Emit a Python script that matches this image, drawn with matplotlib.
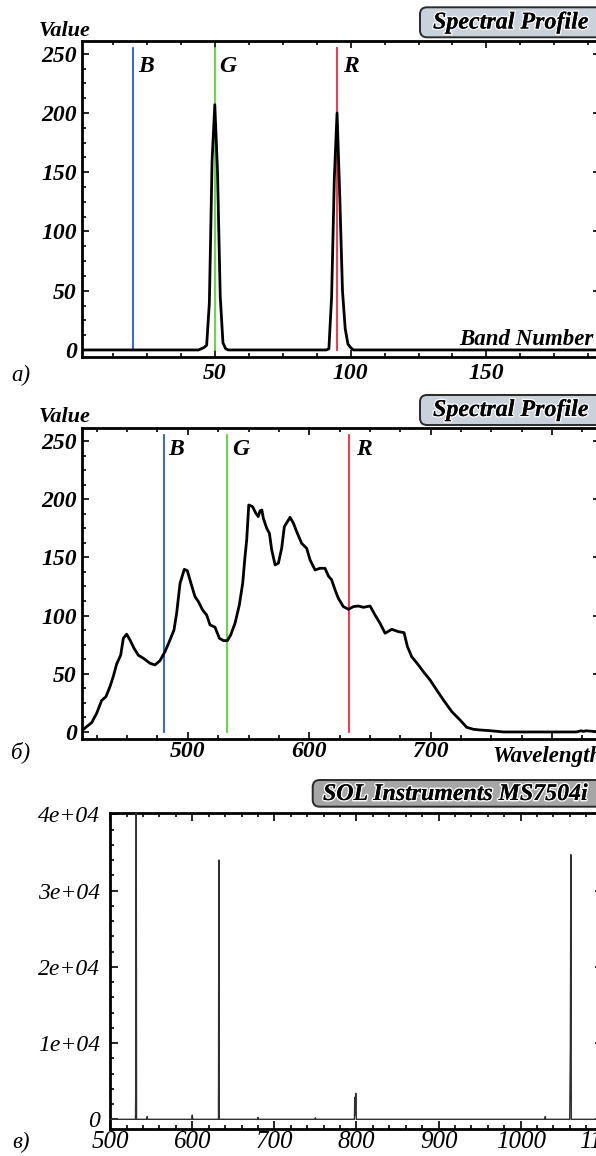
import matplotlib
matplotlib.use("Agg")
import matplotlib.pyplot as plt
from matplotlib.ticker import MultipleLocator, FixedLocator, FixedFormatter
from matplotlib.patches import FancyBboxPatch
from matplotlib.transforms import IdentityTransform
import matplotlib.patheffects as pe

# ---------------- data ----------------
# a) band profile
bands_a = [1, 44, 45, 46, 47, 48, 49, 50, 51, 52, 53, 54, 55,
           91, 92, 93, 94, 95, 96, 97, 98, 99, 100, 101, 192]
values_a = [0, 0, 1, 2, 4, 40, 160, 207, 150, 45, 6, 1, 0,
            0, 1, 45, 145, 200, 130, 50, 18, 5, 2, 0, 0]
rgb_bands_a = [20, 50, 95]
xticks_a = [50, 100, 150]

# b) wavelength profile
wl_b = [412.8, 416.7, 420.8, 424.9, 429.0, 432.6, 435.9, 438.7, 441.4, 444.7,
        446.9, 449.6, 452.4, 455.7, 459.2, 463.4, 468.9, 473.0, 477.1, 481.2,
        485.3, 488.6, 490.8, 493.6, 497.1, 499.6, 502.6, 505.9, 508.7, 512.2,
        515.5, 518.3, 522.4, 526.0, 529.3, 532.6, 535.3, 538.9, 542.4, 545.2,
        547.1, 548.5, 550.2, 553.3, 556.0, 558.0, 559.5, 561.0, 562.2, 565.0,
        567.2, 569.1, 571.9, 574.6, 577.3, 579.5, 584.2, 587.0, 589.7, 593.8,
        597.9, 600.7, 604.8, 608.9, 613.0, 615.8, 618.5, 621.3, 624.0, 628.1,
        632.3, 636.4, 640.5, 644.6, 650.1, 654.2, 658.3, 662.5, 668.0, 673.4,
        678.1, 680.9, 684.4, 689.9, 694.0, 699.5, 705.0, 710.5, 717.4, 724.2,
        729.7, 735.2, 740.7, 749.0, 760.0, 780.0, 800.0, 820.0, 824.0, 826.0,
        828.0, 840.0]
val_b = [1.1, 4.6, 8.0, 16.0, 27.0, 30.4, 39.0, 48.0, 58.4, 66.0,
         80.5, 84.0, 79.0, 71.9, 66.0, 63.3, 59.0, 57.6, 61.3, 69.0,
         79.0, 87.6, 102.0, 127.7, 139.7, 138.6, 127.7, 116.3, 112.0, 104.8,
         100.5, 92.0, 90.0, 80.5, 78.5, 78.5, 83.3, 93.4, 109.0, 127.7,
         150.6, 165.0, 195.0, 193.6, 188.0, 185.0, 190.0, 190.7, 183.6, 175.0,
         170.7, 156.4, 143.5, 145.0, 157.8, 176.4, 184.4, 179.3, 172.0, 162.0,
         157.8, 147.8, 139.2, 140.6, 140.6, 134.0, 130.6, 122.0, 114.8, 107.7,
         105.4, 107.7, 108.2, 107.1, 108.2, 100.5, 93.4, 84.8, 88.2, 86.2,
         85.3, 73.3, 64.7, 57.6, 51.8, 44.7, 36.0, 27.5, 17.5, 10.3,
         4.0, 2.3, 1.7, 1.1, 0.0, 0.0, 0.0, 0.0, 1.0, 0.5,
         1.0, 0.0]
rgb_wl_b = [480, 532, 633]
xticks_b = [500, 600, 700, 800]
xlabels_b = ["500", "600", "700", ""]

# c) spectrometer
wl_c = [500, 520, 530.8, 531.3, 531.7, 532.1, 544.5, 545, 545.5, 560, 580,
        599.4, 600, 600.6, 620, 631.9, 632.4, 632.9, 660, 679.6, 680, 680.4,
        700, 749.6, 750, 750.4, 780, 797.5, 798.0, 798.6, 799.2, 799.8, 800.3,
        840, 880, 920, 960, 1000, 1029.5, 1030, 1030.5,
        1059.8, 1060.6, 1061.2, 1061.8, 1080, 1100]
int_c = [0, 0, 0, 6000, 45000, 0, 0, 350, 0, 0, 0,
         0, 550, 0, 0, 0, 34000, 0, 0, 0, 250, 0,
         0, 0, 200, 0, 0, 0, 2900, 600, 3400, 0, 0,
         0, 0, 0, 0, 0, 0, 350, 0,
         0, 9500, 34700, 0, 0, 0]
yticks_c = [0, 10000, 20000, 30000, 40000]
ylabels_c = ["0", "1e+04", "2e+04", "3e+04", "4e+04"]

# ---------------- layout ----------------
W, H = 596, 1156
DPI = 100
plt.rcParams['font.family'] = ['Liberation Serif', 'DejaVu Serif']
fig = plt.figure(figsize=(W / DPI, H / DPI), dpi=DPI)
fig.patch.set_facecolor('white')


def rect(l, t, r, b):
    return [l / W, 1 - b / H, (r - l) / W, (b - t) / H]


BI = dict(family='Liberation Serif', weight='bold', style='italic')
IT = dict(family='Liberation Serif', weight='normal', style='italic')
LINE_COLORS = ['#2255ee', '#55d633', '#ff2233']


def style_axes(ax, major_len=5, minor_len=2.6, pad=3, font=BI, size=17):
    for s in ax.spines.values():
        s.set_linewidth(2.0)
        s.set_color('black')
    ax.tick_params(which='both', direction='in', top=True, right=True,
                   width=1.2, color='black')
    ax.tick_params(which='major', length=major_len, pad=pad)
    ax.tick_params(which='minor', length=minor_len)
    for lab in ax.get_xticklabels() + ax.get_yticklabels():
        lab.set_fontfamily(font['family'])
        lab.set_fontweight(font['weight'])
        lab.set_fontstyle(font['style'])
        lab.set_fontsize(size)


def fig_text(x, y, s, **kw):
    return fig.text(x / W, 1 - y / H, s, **kw)


def title_box(x0, y0, y1, text, tx, tb, fc, size):
    box = FancyBboxPatch((x0, H - y1), 700 - x0, y1 - y0,
                         boxstyle="round,pad=0,rounding_size=7",
                         transform=IdentityTransform(), facecolor=fc,
                         edgecolor='#2a2a2a', linewidth=1.4, zorder=5)
    fig.add_artist(box)
    t = fig_text(tx, tb, text, ha='left', va='baseline', fontsize=size,
                 color='black', zorder=6, **BI)
    t.set_path_effects([pe.withStroke(linewidth=2.2, foreground='#f4f4f4'),
                        pe.Normal()])


# ---------------- panel a ----------------
axa = fig.add_axes(rect(81.7, 40.5, 600, 357.3))
axa.set_xlim(1, 191.8)
axa.set_ylim(-6.2, 261.2)
for b, c in zip(rgb_bands_a, LINE_COLORS):
    axa.plot([b, b], [0, 255], color=c, lw=1.3, zorder=2)
axa.plot(bands_a, values_a, color='black', lw=2.0, zorder=3,
         solid_joinstyle='round')
for b, name, dx in zip(rgb_bands_a, ['B', 'G', 'R'], [3.5, 3.5, 4.5]):
    axa.annotate(name, (b, 235), xytext=(dx, 0), textcoords='offset points',
                 ha='left', va='baseline', fontsize=17, **BI)
axa.xaxis.set_major_locator(FixedLocator(xticks_a))
axa.xaxis.set_minor_locator(MultipleLocator(12.5))
axa.yaxis.set_major_locator(MultipleLocator(50))
axa.yaxis.set_minor_locator(MultipleLocator(12.5))
style_axes(axa, pad=3.5)
axa.tick_params(axis='x', which='major', pad=4)
fig_text(593, 345, 'Band Number', ha='right', va='baseline', fontsize=16.5, **BI)
fig_text(39, 36, 'Value', ha='left', va='baseline', fontsize=16, **BI)
fig_text(11, 375, 'a)', ha='left', va='center', fontsize=16.5, **IT)
title_box(420, 7.3, 37.3, 'Spectral Profile', 433, 28.5, '#c9d2da', 17.3)

# ---------------- panel b ----------------
axb = fig.add_axes(rect(81.7, 427.7, 600, 739.3))
axb.set_xlim(412.6, 839.5)
axb.set_ylim(-6.3, 261.4)
for w, c in zip(rgb_wl_b, LINE_COLORS):
    axb.plot([w, w], [0, 255], color=c, lw=1.3, zorder=2)
axb.plot(wl_b, val_b, color='black', lw=2.0, zorder=3, solid_joinstyle='round')
for w, name, dx in zip(rgb_wl_b, ['B', 'G', 'R'], [3.5, 4, 4.5]):
    axb.annotate(name, (w, 238), xytext=(dx, 0), textcoords='offset points',
                 ha='left', va='baseline', fontsize=17, **BI)
axb.xaxis.set_major_locator(FixedLocator(xticks_b))
axb.xaxis.set_major_formatter(FixedFormatter(xlabels_b))
axb.xaxis.set_minor_locator(MultipleLocator(25))
axb.yaxis.set_major_locator(MultipleLocator(50))
axb.yaxis.set_minor_locator(MultipleLocator(12.5))
style_axes(axb, pad=3.5)
axb.tick_params(axis='x', which='major', pad=1.5)
fig_text(492, 762, 'Wavelength', ha='left', va='baseline', fontsize=16.5, **BI)
fig_text(39, 422, 'Value', ha='left', va='baseline', fontsize=16, **BI)
fig_text(11, 752, 'б)', ha='left', va='center', fontsize=16.5, **IT)
title_box(420, 395, 425, 'Spectral Profile', 433, 416, '#c9d2da', 17.3)

# ---------------- panel c ----------------
axc = fig.add_axes(rect(110.2, 813.3, 602.7, 1128.7))
axc.set_xlim(500, 1100)
axc.set_ylim(-1233, 40131)
axc.plot(wl_c, int_c, color='#303030', lw=1.0, zorder=3)
axc.xaxis.set_major_locator(MultipleLocator(100))
axc.xaxis.set_minor_locator(MultipleLocator(20))
axc.yaxis.set_major_locator(FixedLocator(yticks_c))
axc.yaxis.set_major_formatter(FixedFormatter(ylabels_c))
axc.yaxis.set_minor_locator(MultipleLocator(2000))
style_axes(axc, major_len=6, minor_len=3, pad=7.5, font=IT, size=17)
axc.tick_params(axis='x', which='major', pad=1.5, labelsize=18)
fig_text(12, 1142, 'в)', ha='left', va='center', fontsize=16.5, **IT)
title_box(312.7, 780, 806.7, 'SOL Instruments MS7504i', 323, 800, '#a6a6a6', 17.2)

fig.savefig('out.png', dpi=DPI, facecolor='white')
